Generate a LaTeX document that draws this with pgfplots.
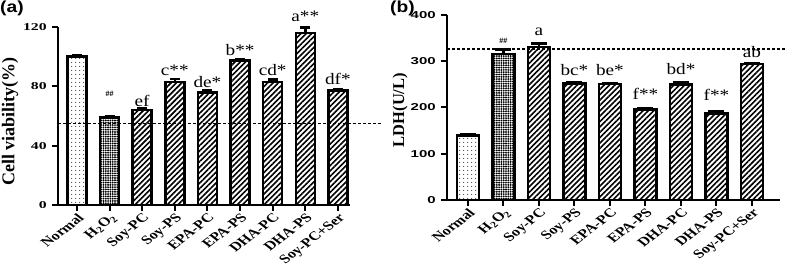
\documentclass[border=0pt]{standalone}
\usepackage{pgfplots}
\pgfplotsset{compat=1.18}
\usepackage{fontspec}
\setmainfont{Liberation Serif}
\newfontfamily\arial{Liberation Sans}
\usetikzlibrary{patterns,patterns.meta}

\pgfplotsset{
  gpaxis/.style={
    scale only axis, anchor=south west,
    axis x line=bottom, axis y line=left,
    axis line style={-, line width=2.6pt},
    every tick/.style={black, line width=2pt},
    tick align=outside, major tick length=6pt,
    ymin=0, clip=false,
    xtick={0,...,8},
    xticklabels={Normal,{H\textsubscript{2}O\textsubscript{2}},Soy-PC,Soy-PS,EPA-PC,EPA-PS,DHA-PC,DHA-PS,Soy-PC+Ser},
    xticklabel style={font=\fontsize{12.5}{13}\selectfont\bfseries, xscale=1.3, rotate=45, anchor=north east, inner sep=1pt},
    /pgf/number format/assume math mode=true,
  },
  gpbar/.style={ybar, bar shift=0pt, draw=black, line width=2.6pt,
    error bars/y dir=plus, error bars/y explicit,
    error bars/error bar style={line width=2.6pt, black},
    error bars/error mark options={rotate=90, line width=2.6pt, mark size=#1, black}},
  gpbar/.default=6pt,
}
\tikzset{
  pdots/.style={pattern={Dots[distance=4pt, radius=0.6pt]}},
  pdense/.style={pattern={Dots[distance=2.3pt, radius=1.05pt]}},
  plines/.style={pattern={Lines[angle=45, distance=3.8pt, line width=1.6pt]}},
  ann/.style={anchor=base, font=\fontsize{16}{18}\selectfont, xscale=1.2, inner sep=0pt},
  hh/.style={anchor=base, font=\fontsize{8}{9}\selectfont\bfseries, inner sep=0pt},
}

\begin{document}
\begin{tikzpicture}[x=1pt,y=1pt]
\path[use as bounding box] (0,0) rectangle (787,270);

% ---------------- panel (a) ----------------
\begin{axis}[gpaxis,
  at={(58pt,65pt)}, width=292pt, height=178pt,
  xmin=-0.58, xmax=8.37, ymax=120,
  ytick={0,40,80,120},
  yticklabel style={font=\fontsize{10.5}{12}\selectfont\bfseries, xscale=1.5},
  ylabel={Cell viability(\%)},
  ylabel style={font=\fontsize{18}{20}\selectfont\bfseries, at={(axis description cs:-0.164,0.47)}, anchor=center},
]
\addplot[gpbar=5pt, bar width=19pt, pdots] coordinates {(0,100) +- (0,0.8)};
\addplot[gpbar=5pt, bar width=19pt, pdense] coordinates {(1,59) +- (0,0.8)};
\addplot[gpbar=5pt, bar width=19pt, plines] coordinates {
  (2,64) +- (0,1.5)
  (3,83) +- (0,2)
  (4,76) +- (0,1)
  (5,97.5) +- (0,1)
  (6,83) +- (0,1.5)
  (7,116) +- (0,3.5)
  (8,77) +- (0,0.7)
};
\addplot[black, line width=1.2pt, densely dashed] coordinates {(-0.58,55) (9.36,55)};
\node[hh]  at (axis cs:1,73) {\#\#};
\node[ann] at (axis cs:2,66.5) {ef};
\node[ann] at (axis cs:3,87) {c**};
\node[ann] at (axis cs:4,79.4) {de*};
\node[ann] at (axis cs:5,101) {b**};
\node[ann] at (axis cs:6,87) {cd*};
\node[ann] at (axis cs:7,124) {a**};
\node[ann] at (axis cs:8,81) {df*};
\end{axis}

% ---------------- panel (b) ----------------
\begin{axis}[gpaxis,
  at={(447pt,70pt)}, width=333pt, height=185pt,
  xmin=-0.59, xmax=8.79, ymax=400,
  ytick={0,100,200,300,400},
  yticklabel style={font=\arial\fontsize{10}{12}\selectfont\bfseries, xscale=1.5},
  ylabel={LDH(U/L)},
  ylabel style={font=\fontsize{16.5}{18}\selectfont\bfseries, at={(axis description cs:-0.141,0.486)}, anchor=center},
]
\addplot[gpbar=8pt, bar width=22pt, pdots] coordinates {(0,140) +- (0,2)};
\addplot[gpbar=8pt, bar width=22pt, pdense] coordinates {(1,316) +- (0,9)};
\addplot[gpbar=8pt, bar width=22pt, plines] coordinates {
  (2,331) +- (0,7)
  (3,252) +- (0,2)
  (4,251) +- (0,2)
  (5,196) +- (0,3)
  (6,250) +- (0,4)
  (7,187) +- (0,5)
  (8,294) +- (0,2)
};
\addplot[black, line width=1.2pt, densely dashed] coordinates {(-0.59,326.5) (8.99,326.5)};
\node[hh]  at (axis cs:1,338) {\#\#};
\node[ann] at (axis cs:2,355) {a};
\node[ann] at (axis cs:3,270) {bc*};
\node[ann] at (axis cs:4,270) {be*};
\node[ann] at (axis cs:5,218) {f**};
\node[ann] at (axis cs:6,272) {bd*};
\node[ann] at (axis cs:7,216) {f**};
\node[ann] at (axis cs:8,308) {ab};
\end{axis}

\node[anchor=north west, inner sep=0pt, font=\arial\bfseries\fontsize{16}{18}\selectfont, xscale=1.2] at (0,269) {(a)};
\node[anchor=north west, inner sep=0pt, font=\arial\bfseries\fontsize{16}{18}\selectfont, xscale=1.2] at (390,269) {(b)};
\end{tikzpicture}
\end{document}
